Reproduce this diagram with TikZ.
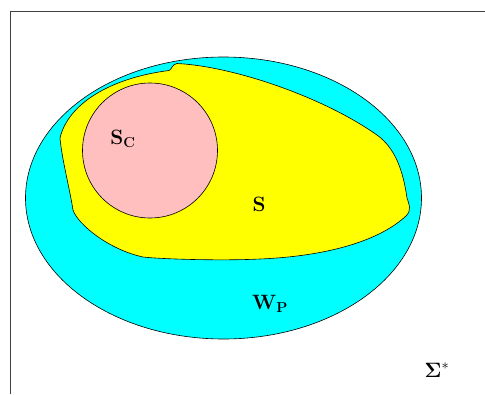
\documentclass[tikz,border=0pt]{standalone}
\usetikzlibrary{shapes.geometric}
\definecolor{pinkc}{RGB}{255,191,191}
\definecolor{cyanc}{RGB}{0,255,255}
\definecolor{yellowc}{RGB}{255,255,0}
\begin{document}
\begin{tikzpicture}[x=1pt,y=-1pt,
  region/.style={draw=black,line width=0.6pt},
  lab/.style={font=\huge},
  frameline/.style={draw=black!75,line width=0.9pt}]
\useasboundingbox (0,0) rectangle (485,394);
\draw[frameline] (485,11) -- (10,11) -- (10,394);
\node[region,fill=cyanc,ellipse,minimum width=396pt,minimum height=282pt,inner sep=0pt] (wp) at (223.5,198) {};
\draw[region,fill=yellowc] (177,63.5)
  .. controls (230,66) and (320,95) .. (377,135)
  .. controls (395,148) and (403,170) .. (407,198)
  .. controls (409,204) and (412,210) .. (406,216)
  .. controls (380,240) and (330,256) .. (260,259)
  .. controls (220,261) and (160,259) .. (143,257)
  .. controls (110,250) and (78,225) .. (73,210)
  .. controls (70,190) and (62,160) .. (60,138)
  .. controls (68,104) and (110,78) .. (169,70.5)
  .. controls (172,69.5) and (172,64) .. (177,63.5) -- cycle;
\node[region,fill=pinkc,circle,minimum size=135pt,inner sep=0pt] (sc) at (150,150.5) {};
\node[lab] (lsc) at (123,139) {$\mathbf{S_C}$};
\node[lab] (ls) at (259,204) {$\mathbf{S}$};
\node[lab] (lwp) at (270,304) {$\mathbf{W_P}$};
\node[lab] (lsig) at (437,370) {$\mathbf{\Sigma}^*$};
\end{tikzpicture}
\end{document}
